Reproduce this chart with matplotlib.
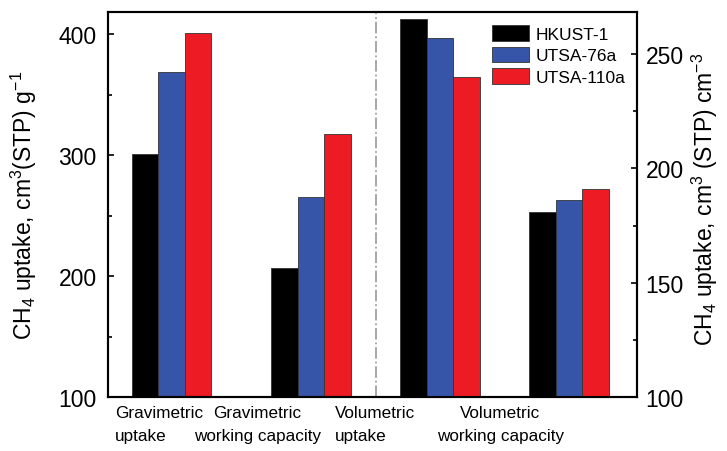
import matplotlib.pyplot as plt
import matplotlib.transforms as mtransforms
from matplotlib.ticker import MultipleLocator

plt.rcParams['font.family'] = 'Liberation Sans'
plt.rcParams['mathtext.fontset'] = 'custom'
plt.rcParams['mathtext.rm'] = 'Liberation Sans'
plt.rcParams['mathtext.it'] = 'Liberation Sans:italic'
plt.rcParams['mathtext.default'] = 'regular'

materials = ['HKUST-1', 'UTSA-76a', 'UTSA-110a']
colors = ['#000000', '#3755a8', '#ed1c24']

# gravimetric, cm3(STP) g-1
grav_uptake = [301, 369, 401]
grav_working = [207, 266, 318]
# volumetric, cm3(STP) cm-3 (right axis)
vol_uptake = [265, 257, 240]
vol_working = [181, 186, 191]

categories = [('Gravimetric', 'uptake'), ('Gravimetric', 'working capacity'),
              ('Volumetric', 'uptake'), ('Volumetric', 'working capacity')]

group_x = [0, 1.08, 2.08, 3.08]
width = 0.205

fig = plt.figure(figsize=(7.27, 4.52), dpi=100)
ax = fig.add_axes([0.149, 0.1184, 0.7276, 0.8518])
ax2 = ax.twinx()

for i, (name, c) in enumerate(zip(materials, colors)):
    off = (i - 1) * width
    ax.bar([group_x[0] + off, group_x[1] + off], [grav_uptake[i], grav_working[i]],
           width, color=c, edgecolor='#333333', linewidth=0.6, label=name)
    ax2.bar([group_x[2] + off, group_x[3] + off], [vol_uptake[i], vol_working[i]],
            width, color=c, edgecolor='#333333', linewidth=0.6)

ax.set_xlim(-0.488, 3.608)
ax.set_ylim(100, 418)
ax2.set_ylim(100, 268)
ax.set_xticks([])

ax.yaxis.set_major_locator(MultipleLocator(100))
ax.yaxis.set_minor_locator(MultipleLocator(50))
ax2.yaxis.set_major_locator(MultipleLocator(50))
ax2.yaxis.set_minor_locator(MultipleLocator(25))

ax.tick_params(axis='y', which='major', direction='in', length=4, width=1.2,
               labelsize=16.5, pad=8.3)
ax.tick_params(axis='y', which='minor', direction='in', length=3, width=1.2)
ax2.tick_params(axis='y', which='major', direction='in', length=4, width=1.2,
                labelsize=16.5, pad=6)
ax2.tick_params(axis='y', which='minor', direction='in', length=3, width=1.2)

for a in (ax, ax2):
    for s in a.spines.values():
        s.set_linewidth(1.5)

# separator between gravimetric and volumetric groups
ax.axvline(1.587, color='#a0a0a0', linestyle='-.', linewidth=1.3)

# two-line category labels under the axis
trans = mtransforms.blended_transform_factory(ax.transData, ax.transAxes)
label_x = [-0.436, 0.664, 1.269, 2.548]
label_ha = ['left', 'center', 'left', 'center']
for x, (line1, line2), ha in zip(label_x, categories, label_ha):
    ax.text(x, -0.020, line1, transform=trans, ha=ha, va='top', fontsize=12.3)
    ax.text(x, -0.080, line2, transform=trans, ha=ha, va='top', fontsize=12.3)

fig.text(24 / 727, 0.545, r'CH$_4$ uptake, cm$^3$(STP) g$^{-1}$', rotation=90,
         ha='center', va='center', fontsize=16.5)
fig.text(705 / 727, 0.56, r'CH$_4$ uptake, cm$^3$ (STP) cm$^{-3}$', rotation=90,
         ha='center', va='center', fontsize=16.5)

handles, labels = ax.get_legend_handles_labels()
ax2.legend(handles, labels, loc='upper left', bbox_to_anchor=(0.7256, 0.967),
           frameon=False, fontsize=12.5, borderpad=0, borderaxespad=0,
           handlelength=2.1, handleheight=1.0, handletextpad=0.4, labelspacing=0.28)

fig.savefig('out.png', dpi=100)
